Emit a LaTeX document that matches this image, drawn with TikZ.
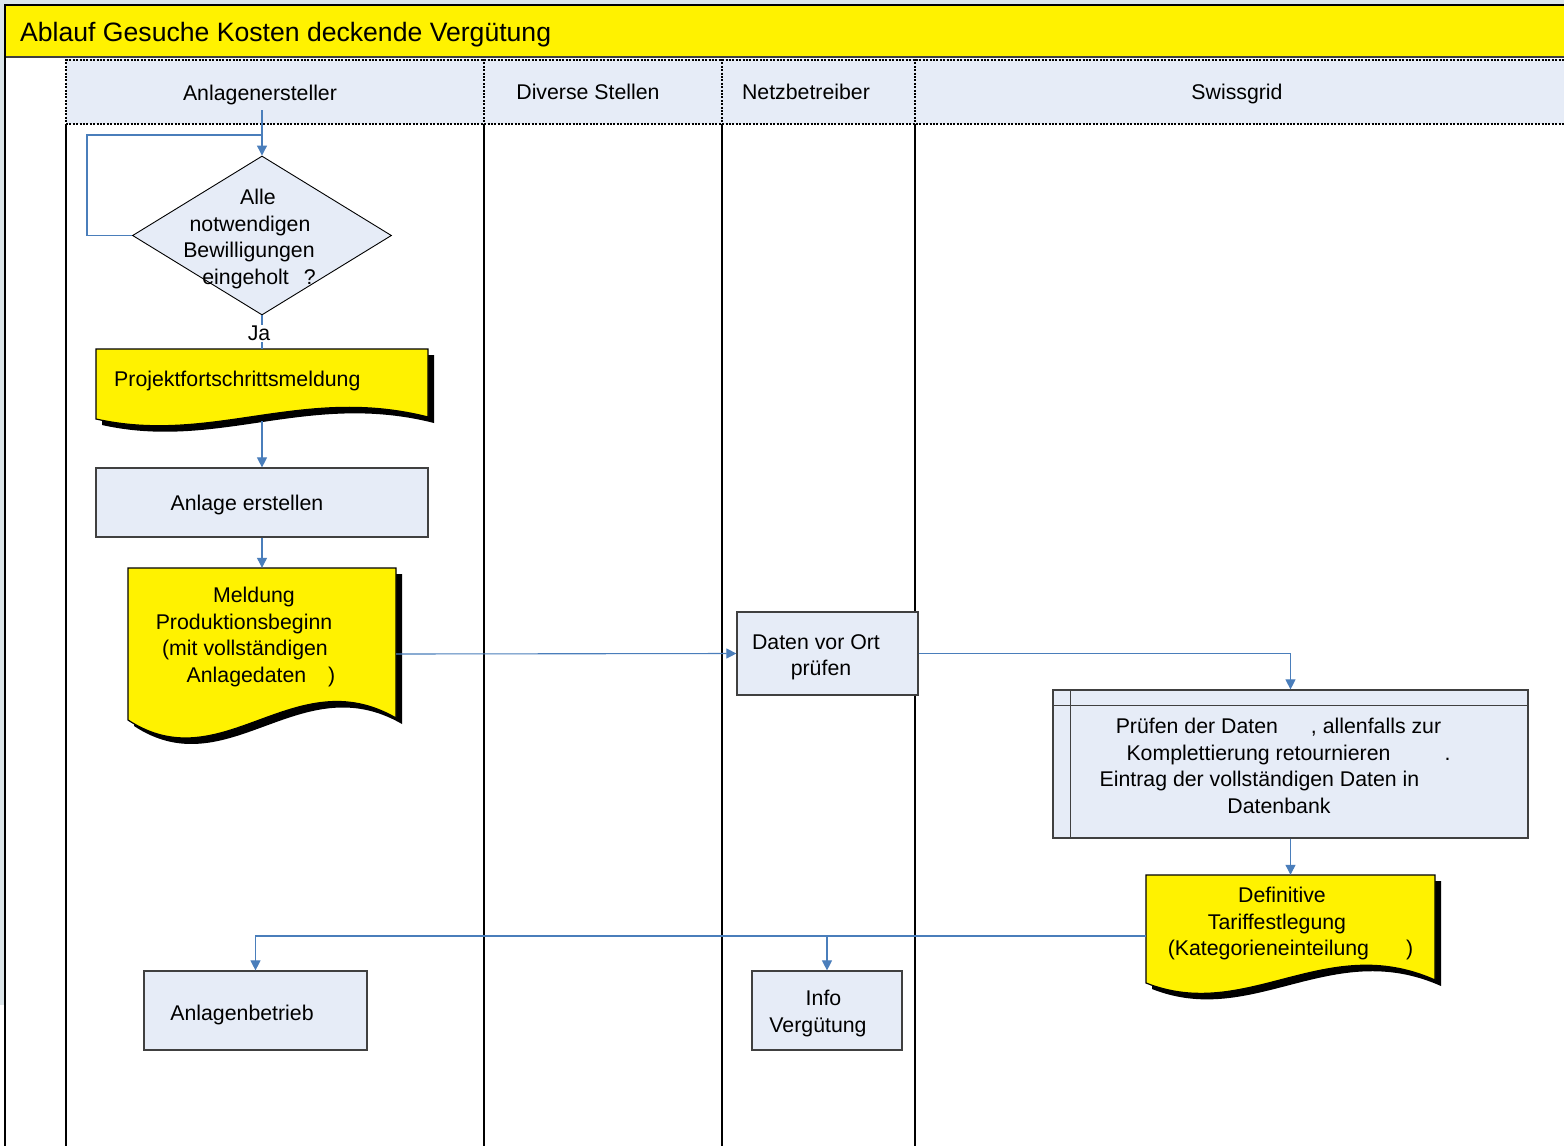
\documentclass[tikz,border=0pt]{standalone}
\usepackage{fontspec}
\setmainfont{Liberation Sans}
\usetikzlibrary{arrows.meta,shapes.geometric}
\definecolor{boxblue}{RGB}{230,236,247}
\definecolor{conncol}{RGB}{74,126,187}
\definecolor{bgray}{RGB}{219,229,233}
\definecolor{edgegray}{RGB}{64,64,64}
\begin{document}
\begin{tikzpicture}[x=1pt,y=-1pt,
  every node/.style={font=\fontsize{21.3}{26.5}\selectfont, inner sep=0pt},
  procbox/.style={draw=edgegray, line width=1.2pt, fill=boxblue, rectangle},
  ghost/.style={rectangle, inner sep=0pt},
  conn/.style={draw=conncol, line width=1.1pt},
  arr/.style={conn, -{Triangle[width=10pt,length=10pt]}},
  docfill/.style={fill=yellow, draw=black, line width=1.2pt},
  lane/.style={line width=1.4pt},
  dots/.style={line width=2pt, dash pattern=on 2pt off 1.4pt},
]
\useasboundingbox (0,0) rectangle (1564,1146);
\fill[white] (0,0) rectangle (1564,1146);
\fill[bgray] (0,0) rectangle (1564,3.5);
\fill[bgray] (0,0) rectangle (4,1005);

% title band
\fill[yellow] (5,4) rectangle (1564,57);
\draw[line width=2pt] (5,4.5) -- (1564,4.5);
\draw[edgegray, line width=1.4pt] (5,57) -- (1564,57);
\draw[line width=2pt] (5,4) -- (5,1146);
\node[anchor=west, font=\fontsize{26.6}{30}\selectfont] (title) at (20,35) {Ablauf Gesuche Kosten deckende Vergütung};

% header band
\fill[boxblue] (66,59) rectangle (1564,124);
\draw[dots] (66,59.5) -- (1564,59.5);
\draw[dots] (66,124) -- (1564,124);
\foreach \lx in {66,484,722,915} {
  \draw[dots] (\lx,59) -- (\lx,124);
  \draw[lane] (\lx,124) -- (\lx,1146);
}
\node (h1) at (260,95) {Anlagenersteller};
\node (h2) at (588,92) {Diverse Stellen};
\node (h3) at (806,92) {Netzbetreiber};
\node (h4) at (1237,94) {Swissgrid};

% decision
\node[diamond, draw=black, line width=0.9pt, fill=boxblue, minimum width=259pt, minimum height=159pt] (dia) at (262,235.5) {};
\node[align=center] (diat) at (255,239) {\mbox{\hspace{6pt}}Alle\\notwendigen\mbox{\hspace{10pt}}\\Bewilligungen\mbox{\hspace{12pt}}\\\mbox{\hspace{8pt}}eingeholt\hspace{15pt}?};

% Projektfortschrittsmeldung
\fill[black, shift={(6,6)}] (96,349) -- (428,349) -- (428,417) .. controls (302,385) and (212,445) .. (96,419) -- cycle;
\path[docfill] (96,349) -- (428,349) -- (428,417) .. controls (302,385) and (212,445) .. (96,419) -- cycle;
\node[ghost, minimum width=332pt, minimum height=72pt] (proj) at (262,385) {};
\node[anchor=west] (projt) at (114,381) {Projektfortschrittsmeldung};

% Anlage erstellen
\node[procbox, minimum width=332pt, minimum height=69pt] (anl) at (262,502.5) {};
\node (anlt) at (262,504.5) {Anlage erstellen\mbox{\hspace{30pt}}};

% Meldung Produktionsbeginn
\fill[black, shift={(6,6)}] (128,568) -- (396,568) -- (396,718) .. controls (294,659) and (222,782) .. (128,720) -- cycle;
\path[docfill] (128,568) -- (396,568) -- (396,718) .. controls (294,659) and (222,782) .. (128,720) -- cycle;
\node[ghost, minimum width=268pt, minimum height=172pt] (meld) at (262,654) {};
\node[align=center] (meldt) at (262,637) {Meldung\mbox{\hspace{16pt}}\\Produktionsbeginn\mbox{\hspace{36pt}}\\(mit vollständigen\mbox{\hspace{34pt}}\\Anlagedaten\hspace{22pt})\mbox{\hspace{2pt}}};

% Daten vor Ort pruefen
\node[procbox, minimum width=181pt, minimum height=83pt] (dvo) at (827.5,653.5) {};
\node[align=center] (dvot) at (827.5,657.5) {Daten vor Ort\mbox{\hspace{23pt}}\\prüfen\mbox{\hspace{13pt}}};

% Pruefen der Daten
\node[procbox, minimum width=475pt, minimum height=148pt] (pru) at (1290.5,764) {};
\draw[edgegray, line width=1.2pt] ([yshift=-16pt]pru.north west) -- ([yshift=-16pt]pru.north east);
\draw[edgegray, line width=1.2pt] ([xshift=18pt]pru.north west) -- ([xshift=18pt]pru.south west);
\node[align=center] (prut) at (1290.5,766) {Prüfen der Daten\hspace{33pt}, allenfalls zur\mbox{\hspace{24pt}}\\Komplettierung retournieren\hspace{54pt}.\mbox{\hspace{4pt}}\\Eintrag der vollständigen Daten in\mbox{\hspace{62pt}}\\Datenbank\mbox{\hspace{23pt}}};

% Definitive Tariffestlegung
\fill[black, shift={(6,6)}] (1146,875) -- (1435,875) -- (1435,980) .. controls (1325,931) and (1247,1023) .. (1146,983) -- cycle;
\path[docfill] (1146,875) -- (1435,875) -- (1435,980) .. controls (1325,931) and (1247,1023) .. (1146,983) -- cycle;
\node[ghost, minimum width=289pt, minimum height=122pt] (def) at (1290.5,936) {};
\node[align=center] (deft) at (1290.5,923.5) {Definitive\mbox{\hspace{17pt}}\\Tariffestlegung\mbox{\hspace{27pt}}\\(Kategorieneinteilung\hspace{37pt})};

% bottom boxes
\node[procbox, minimum width=223pt, minimum height=79pt] (anb) at (255.5,1010.5) {};
\node (anbt) at (255.5,1014.5) {Anlagenbetrieb\mbox{\hspace{27pt}}};
\node[procbox, minimum width=150pt, minimum height=79pt] (inf) at (827,1010.5) {};
\node[align=center] (inft) at (827,1013.5) {Info\mbox{\hspace{7pt}}\\Vergütung\mbox{\hspace{18pt}}};

% connectors
\coordinate (c0) at (262,110);
\coordinate (lp) at (87,135);
\draw[arr] (c0) -- (dia.north);
\draw[conn] (dia.west) -| (lp) -- (lp -| dia.north);
\draw[conn] (dia.south) -- node[fill=white, inner sep=1pt, xshift=-3pt, yshift=-1pt] (ja) {Ja} (proj.north);
\draw[arr] (proj.south) -- (anl.north);
\draw[arr] (anl.south) -- (meld.north);
\draw[arr] (meld.east) -- (dvo.west);
\draw[arr] (dvo.east) -| (pru.north);
\draw[arr] (pru.south) -- (def.north);
\draw[arr] (def.west) -| (anb.north);
\draw[arr] (inf.north |- def.west) -- (inf.north);
\end{tikzpicture}
\end{document}
